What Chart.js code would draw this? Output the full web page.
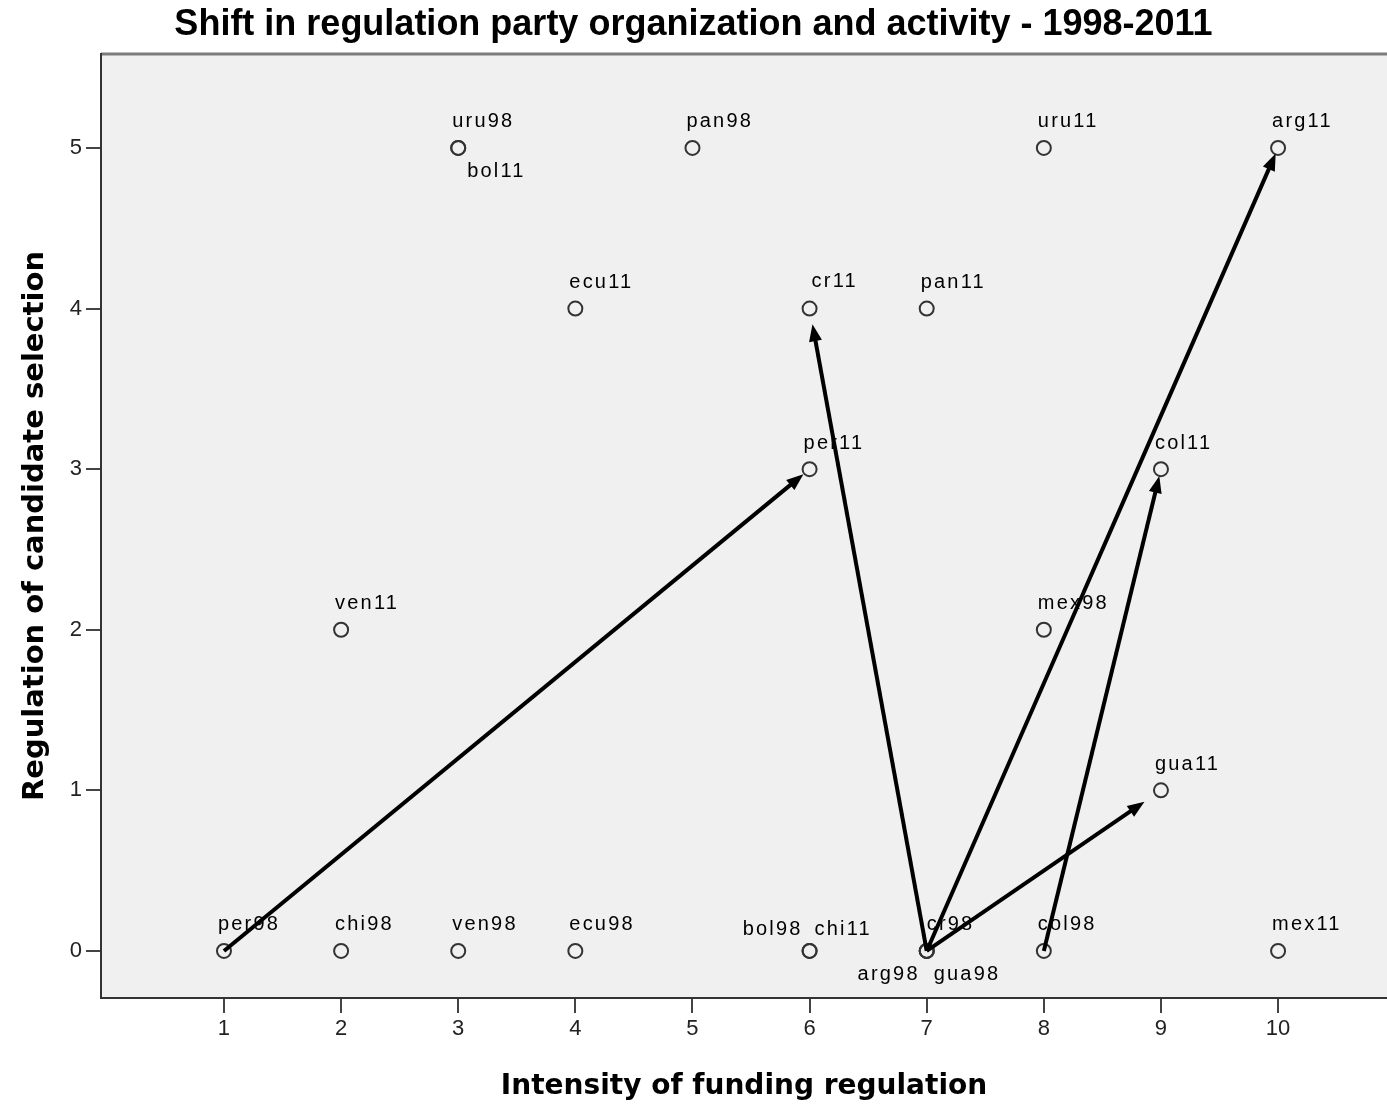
<!DOCTYPE html>
<html lang="en">
<head>
    <meta charset="UTF-8">
    <title>Shift in regulation party organization and activity - 1998-2011</title>
    <script src="https://cdn.jsdelivr.net/npm/chart.js"></script>
    <style>
        body { margin: 0; background: #fff; overflow: hidden; }
        canvas { display: block; }
    </style>
</head>
<body>
    <canvas id="shiftChart" width="1387" height="1105"></canvas>
    <script>
        // country/year cases
        const cases = ['per98', 'chi98', 'ven98', 'ecu98', 'bol98', 'cr98', 'arg98', 'gua98', 'col98', 'uru98', 'pan98', 'mex98',
                       'per11', 'chi11', 'ven11', 'ecu11', 'bol11', 'cr11', 'arg11', 'gua11', 'col11', 'uru11', 'pan11', 'mex11'];
        const funding   = [1, 2, 3, 4, 6, 7, 7, 7, 8, 3, 5, 8,   6, 6, 2, 4, 3, 6, 10, 9, 9, 8, 7, 10];
        const candidate = [0, 0, 0, 0, 0, 0, 0, 0, 0, 5, 5, 2,   3, 0, 2, 4, 5, 4, 5, 1, 3, 5, 4, 0];

        // arrows 1998 -> 2011
        const arrowFrom = ['per98', 'cr98', 'arg98', 'col98', 'gua98'];
        const arrowTo   = ['per11', 'cr11', 'arg11', 'col11', 'gua11'];

        const xTicks = [1, 2, 3, 4, 5, 6, 7, 8, 9, 10];
        const yTicks = [0, 1, 2, 3, 4, 5];

        // label placement (style only)
        const labelPos = {
            bol11: { align: 'left', dx: 9, dy: 24 },
            bol98: { align: 'right', dx: -7, dy: -21 },
            chi11: { align: 'left', dx: 5, dy: -21 },
            arg98: { align: 'right', dx: -7, dy: 24 },
            gua98: { align: 'left', dx: 7, dy: 24 },
            cr98:  { align: 'left', dx: 0, dy: -26 },
            cr11:  { align: 'left', dx: 2, dy: -27 }
        };
        const arrowShrink = [8, 16, 6, 7, 20];

        const plotBg = {
            id: 'plotBg',
            beforeDraw(chart) {
                const { ctx, chartArea: a } = chart;
                ctx.save();
                ctx.fillStyle = '#f0f0f0';
                ctx.fillRect(a.left, a.top, a.right - a.left, a.bottom - a.top);
                ctx.strokeStyle = '#7c7c7c';
                ctx.lineWidth = 3;
                ctx.beginPath();
                ctx.moveTo(a.left, a.top);
                ctx.lineTo(a.right, a.top);
                ctx.stroke();
                ctx.restore();
            }
        };

        const pointLabels = {
            id: 'pointLabels',
            afterDatasetsDraw(chart) {
                const { ctx, scales } = chart;
                ctx.save();
                ctx.font = '20px "Liberation Sans", Arial, sans-serif';
                ctx.letterSpacing = '2.2px';
                ctx.fillStyle = '#000';
                ctx.textBaseline = 'middle';
                cases.forEach((name, i) => {
                    const p = labelPos[name] || { align: 'left', dx: -6, dy: -26 };
                    const px = scales.x.getPixelForValue(funding[i]);
                    const py = scales.y.getPixelForValue(candidate[i]);
                    ctx.textAlign = p.align;
                    ctx.fillText(name, px + p.dx, py + p.dy);
                });
                ctx.restore();
            }
        };

        const arrows = {
            id: 'arrows',
            afterDatasetsDraw(chart) {
                const { ctx, scales } = chart;
                ctx.save();
                ctx.strokeStyle = '#000';
                ctx.fillStyle = '#000';
                ctx.lineWidth = 4;
                arrowFrom.forEach((from, k) => {
                    const i = cases.indexOf(from);
                    const j = cases.indexOf(arrowTo[k]);
                    const x0 = scales.x.getPixelForValue(funding[i]);
                    const y0 = scales.y.getPixelForValue(candidate[i]);
                    const x1 = scales.x.getPixelForValue(funding[j]);
                    const y1 = scales.y.getPixelForValue(candidate[j]);
                    const len = Math.hypot(x1 - x0, y1 - y0);
                    const ux = (x1 - x0) / len, uy = (y1 - y0) / len;
                    const tx = x1 - ux * arrowShrink[k], ty = y1 - uy * arrowShrink[k];
                    const head = 17, half = 6.5;
                    ctx.beginPath();
                    ctx.moveTo(x0, y0);
                    ctx.lineTo(tx - ux * head * 0.8, ty - uy * head * 0.8);
                    ctx.stroke();
                    ctx.beginPath();
                    ctx.moveTo(tx, ty);
                    ctx.lineTo(tx - ux * head - uy * half, ty - uy * head + ux * half);
                    ctx.lineTo(tx - ux * head + uy * half, ty - uy * head - ux * half);
                    ctx.closePath();
                    ctx.fill();
                });
                ctx.restore();
            }
        };

        const noPad = s => { s.paddingLeft = 0; s.paddingRight = 0; s.paddingTop = 0; s.paddingBottom = 0; };
        const tickFont = { family: '"Liberation Sans", Arial, sans-serif', size: 22 };
        const axisTitleFont = { family: '"DejaVu Sans", Verdana, sans-serif', size: 29, weight: 'bold' };

        new Chart(document.getElementById('shiftChart'), {
            type: 'scatter',
            data: {
                datasets: [{
                    label: 'cases',
                    data: cases.map((c, i) => ({ x: funding[i], y: candidate[i] })),
                    pointRadius: 7,
                    pointHoverRadius: 7,
                    pointBorderWidth: 2,
                    pointBorderColor: '#333',
                    pointBackgroundColor: 'rgba(0,0,0,0)'
                }]
            },
            options: {
                responsive: false,
                animation: false,
                layout: { padding: 0, autoPadding: false },
                plugins: {
                    legend: { display: false },
                    tooltip: { enabled: false },
                    title: {
                        display: true,
                        text: 'Shift in regulation party organization and activity - 1998-2011',
                        color: '#000',
                        font: { family: '"Liberation Sans", Arial, sans-serif', size: 36, weight: 'bold' },
                        padding: { top: 3, bottom: 7.8 }
                    }
                },
                scales: {
                    x: {
                        type: 'linear',
                        min: -0.05,
                        max: 10.93,
                        afterBuildTicks: s => { s.ticks = xTicks.map(v => ({ value: v })); },
                        afterFit: s => { s.height = 107; noPad(s); },
                        grid: { drawOnChartArea: false, drawTicks: true, tickLength: 15, color: '#444', lineWidth: 2 },
                        border: { display: true, color: '#333', width: 2 },
                        ticks: { color: '#222', padding: 3, font: tickFont },
                        title: {
                            display: true,
                            text: 'Intensity of funding regulation',
                            color: '#000',
                            font: { family: '"DejaVu Sans", Verdana, sans-serif', size: 28, weight: 'bold' },
                            padding: { top: 1, bottom: 1 }
                        }
                    },
                    y: {
                        type: 'linear',
                        min: -0.293,
                        max: 5.585,
                        afterBuildTicks: s => { s.ticks = yTicks.map(v => ({ value: v })); },
                        afterFit: s => { s.width = 101; noPad(s); },
                        grid: { drawOnChartArea: false, drawTicks: true, tickLength: 15, color: '#444', lineWidth: 2 },
                        border: { display: true, color: '#333', width: 2 },
                        ticks: { color: '#222', padding: 4, font: tickFont },
                        title: {
                            display: true,
                            text: 'Regulation of candidate selection',
                            color: '#000',
                            font: axisTitleFont,
                            padding: { top: 18, bottom: 18 }
                        }
                    }
                }
            },
            plugins: [plotBg, arrows, pointLabels]
        });
    </script>
</body>
</html>
